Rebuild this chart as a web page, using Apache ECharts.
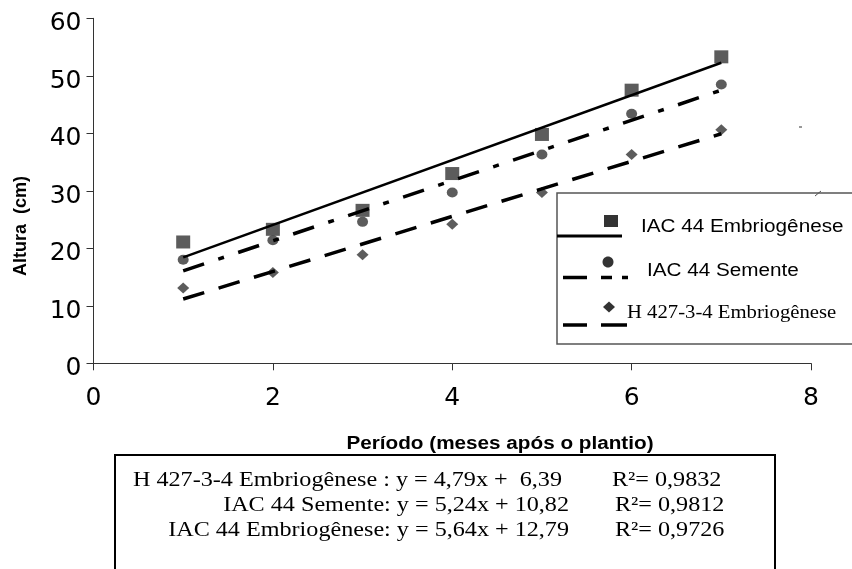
<!DOCTYPE html>
<html>
<head>
<meta charset="utf-8">
<script src="https://cdn.jsdelivr.net/npm/echarts@6.0.0/dist/echarts.min.js"></script>
<style>html,body{margin:0;padding:0;background:#fff}#c{width:852px;height:569px}</style>
</head>
<body>
<div id="c"></div>
<script>
// ---- data ----
var months = [1, 2, 3, 4, 5, 6, 7];
var iacEmbriogenese = [21.1, 23.3, 26.6, 33.0, 39.8, 47.5, 53.3];
var iacSemente = [18.0, 21.4, 24.6, 29.7, 36.3, 43.4, 48.5];
var h427Embriogenese = [13.1, 15.8, 18.9, 24.2, 29.7, 36.3, 40.6];
// trend line end points (x = 1 and x = 7)
var trendX = [1, 7];
var iacEmbTrend = [18.43, 52.27];
var iacSemTrend = [16.06, 47.50];
var h427Trend = [11.18, 39.92];
// labels
var seriesNames = ['IAC 44 Embriogênese', 'IAC 44 Semente', 'H 427-3-4 Embriogênese'];
var xTitle = 'Período (meses após o plantio)';
var yTitle = 'Altura  (cm)';
var eqLines = ['H 427-3-4 Embriogênese : y = 4,79x +  6,39', 'IAC 44 Semente: y = 5,24x + 10,82', 'IAC 44 Embriogênese: y = 5,64x + 12,79'];
var r2Lines = ['R²= 0,9832', 'R²= 0,9812', 'R²= 0,9726'];

function pairs(xs, ys) { return xs.map(function (x, i) { return [x, ys[i]]; }); }

var markColor = '#333333';
var chart = echarts.init(document.getElementById('c'), null, {renderer: 'canvas'});

var SANS = '"Liberation Sans", Arial, sans-serif';
var SERIF = '"Liberation Serif", "Times New Roman", serif';
var SX = 1.15;

var g = [];
// axis titles
g.push({type: 'text', x: 500, y: 444, scaleX: SX, style: {text: xTitle, font: 'bold 18px ' + SANS, fill: '#000', align: 'center', verticalAlign: 'middle'}});
g.push({type: 'text', x: 21.5, y: 226, rotation: Math.PI / 2, style: {text: yTitle, font: 'bold 18px ' + SANS, fill: '#000', align: 'center', verticalAlign: 'middle'}});
// legend box
g.push({type: 'rect', shape: {x: 557, y: 193, width: 320, height: 151}, style: {fill: '#fff', stroke: '#555', lineWidth: 1.5}, z: 50});
// entry 1
g.push({type: 'line', shape: {x1: 557, y1: 236, x2: 622, y2: 236}, style: {stroke: '#000', lineWidth: 3}, z: 51});
g.push({type: 'rect', shape: {x: 604, y: 215, width: 14, height: 12}, style: {fill: markColor}, z: 51});
g.push({type: 'text', x: 641, y: 227, scaleX: SX, style: {text: seriesNames[0], font: '18px ' + SANS, fill: '#000', align: 'left', verticalAlign: 'middle'}, z: 51});
// entry 2
[[563, 587], [601, 612], [622, 628]].forEach(function (s) {
  g.push({type: 'line', shape: {x1: s[0], y1: 277.5, x2: s[1], y2: 277.5}, style: {stroke: '#000', lineWidth: 3.5}, z: 51});
});
g.push({type: 'ellipse', shape: {cx: 608, cy: 262, rx: 5.5, ry: 5.5}, style: {fill: markColor}, z: 51});
g.push({type: 'text', x: 647, y: 271, scaleX: SX, style: {text: seriesNames[1], font: '18px ' + SANS, fill: '#000', align: 'left', verticalAlign: 'middle'}, z: 51});
// entry 3
[[563, 587], [601, 627]].forEach(function (s) {
  g.push({type: 'line', shape: {x1: s[0], y1: 325, x2: s[1], y2: 325}, style: {stroke: '#000', lineWidth: 3.5}, z: 51});
});
g.push({type: 'polygon', shape: {points: [[609, 301.5], [615, 307], [609, 312.5], [603, 307]]}, style: {fill: markColor}, z: 51});
g.push({type: 'text', x: 627, y: 313, scaleX: SX, style: {text: seriesNames[2], font: '18px ' + SERIF, fill: '#000', align: 'left', verticalAlign: 'middle'}, z: 51});
// small stray marks of the original
g.push({type: 'line', shape: {x1: 799, y1: 127, x2: 802, y2: 127}, style: {stroke: '#333', lineWidth: 1}, z: 52});
g.push({type: 'line', shape: {x1: 815, y1: 196, x2: 821, y2: 191}, style: {stroke: '#555', lineWidth: 1}, z: 52});
// equation box
g.push({type: 'rect', shape: {x: 115, y: 455, width: 660, height: 130}, style: {fill: 'none', stroke: '#000', lineWidth: 2}});
var eqEnd = [562, 569, 569];
var r2Start = [612, 615, 615];
var eqY = [480, 505, 530];
for (var i = 0; i < 3; i++) {
  g.push({type: 'text', x: eqEnd[i], y: eqY[i], scaleX: SX, style: {text: eqLines[i], font: '21px ' + SERIF, fill: '#000', align: 'right', verticalAlign: 'middle'}});
  g.push({type: 'text', x: r2Start[i], y: eqY[i], scaleX: SX, style: {text: r2Lines[i], font: '21px ' + SERIF, fill: '#000', align: 'left', verticalAlign: 'middle'}});
}

var axisLabelStyle = {fontFamily: 'DejaVu Sans', fontSize: 25, color: '#000'};

chart.setOption({
  animation: false,
  backgroundColor: '#fff',
  grid: {left: 93.5, right: 41, top: 18.3, bottom: 205.7, containLabel: false, outerBoundsMode: 'none'},
  xAxis: {
    type: 'value', min: 0, max: 8, interval: 2,
    axisLine: {show: true, onZero: false, lineStyle: {color: '#333', width: 1}},
    axisTick: {show: true, inside: false, length: 7, lineStyle: {color: '#333', width: 1}},
    axisLabel: Object.assign({margin: 23}, axisLabelStyle),
    splitLine: {show: false}
  },
  yAxis: {
    type: 'value', min: 0, max: 60, interval: 10,
    axisLine: {show: true, onZero: false, lineStyle: {color: '#333', width: 1}},
    axisTick: {show: true, inside: false, length: 7, lineStyle: {color: '#333', width: 1}},
    axisLabel: Object.assign({margin: 12, verticalAlign: 'top', lineHeight: 11}, axisLabelStyle),
    splitLine: {show: false}
  },
  series: [
    {type: 'scatter', name: seriesNames[0], data: pairs(months, iacEmbriogenese), symbol: 'rect', symbolSize: [14, 13], itemStyle: {color: markColor}, z: 2},
    {type: 'scatter', name: seriesNames[1], data: pairs(months, iacSemente), symbol: 'circle', symbolSize: [11, 10], itemStyle: {color: markColor}, z: 2},
    {type: 'scatter', name: seriesNames[2], data: pairs(months, h427Embriogenese), symbol: 'diamond', symbolSize: [12, 11], itemStyle: {color: markColor}, z: 2},
    {type: 'line', data: pairs(trendX, iacEmbTrend), symbol: 'none', lineStyle: {color: '#000', width: 2.5, type: 'solid'}, z: 3},
    {type: 'line', data: pairs(trendX, iacSemTrend), symbol: 'none', lineStyle: {color: '#000', width: 3.5, type: [22, 15, 6, 15]}, z: 3},
    {type: 'line', data: pairs(trendX, h427Trend), symbol: 'none', lineStyle: {color: '#000', width: 3.5, type: [22, 15]}, z: 3}
  ],
  graphic: {elements: g}
});
</script>
</body>
</html>
